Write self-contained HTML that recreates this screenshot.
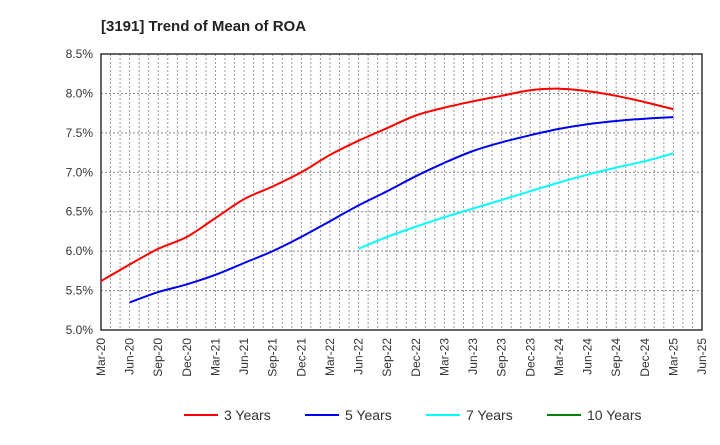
<!DOCTYPE html>
<html><head><meta charset="utf-8"><style>
body{margin:0;background:#fff;font-family:"Liberation Sans",sans-serif}
</style></head><body>
<svg id="chart" width="720" height="440" xmlns="http://www.w3.org/2000/svg" font-family="Liberation Sans, sans-serif">
<text x="101" y="31" font-size="15" font-weight="bold" fill="#222">[3191]  Trend of Mean of ROA</text>
<g id="grid"></g>
<g id="axes"></g>
<g id="series"></g>
<g id="legend"></g>
</svg>
<script>
const xLabels=["Mar-20","Jun-20","Sep-20","Dec-20","Mar-21","Jun-21","Sep-21","Dec-21","Mar-22","Jun-22","Sep-22","Dec-22","Mar-23","Jun-23","Sep-23","Dec-23","Mar-24","Jun-24","Sep-24","Dec-24","Mar-25","Jun-25"];
const yTicks=[5.0,5.5,6.0,6.5,7.0,7.5,8.0,8.5];
const y3=[5.62,5.83,6.03,6.18,6.42,6.66,6.82,7.0,7.22,7.40,7.56,7.72,7.82,7.90,7.97,8.04,8.06,8.03,7.97,7.89,7.80];
const y5=[5.35,5.48,5.58,5.70,5.85,6.00,6.18,6.38,6.58,6.76,6.95,7.12,7.27,7.38,7.47,7.55,7.61,7.65,7.68,7.70];
const y7=[6.03,6.18,6.31,6.43,6.54,6.65,6.76,6.87,6.97,7.06,7.14,7.24];
const y10=[];
const start3=0,start5=1,start7=9,start10=0;
const L=101,R=702,T=54,B=330;
const NS="http://www.w3.org/2000/svg";
const xq=i=>L+(R-L)*i/(xLabels.length-1);
const ym=v=>B-(v-5)/(3.5)*(B-T);
function mk(tag,attrs,parent){const e=document.createElementNS(NS,tag);for(const k in attrs)e.setAttribute(k,attrs[k]);parent.appendChild(e);return e;}
const grid=document.getElementById('grid'),axes=document.getElementById('axes'),series=document.getElementById('series'),legend=document.getElementById('legend');
const nMonths=(xLabels.length-1)*3;
for(let m=1;m<nMonths;m++){const x=L+(R-L)*m/nMonths;
const g=mk('line',{x1:x,x2:x,y1:T,y2:B,stroke:'#999','stroke-dasharray':'2,2','stroke-width':1},grid);

}
yTicks.forEach(v=>{const y=ym(v);
if(v>5&&v<8.5){const g=mk('line',{x1:L,x2:R,y1:y,y2:y,stroke:'#888','stroke-dasharray':'2,2','stroke-width':1},grid);

}
const t=mk('text',{x:L-8,y:y+4,'font-size':12,'text-anchor':'end',fill:'#333'},axes);t.textContent=v.toFixed(1)+'%';

});
xLabels.forEach((s,i)=>{const x=xq(i);
const t=mk('text',{x:x+4,y:B+8,'font-size':12,'text-anchor':'end',fill:'#333',transform:`rotate(-90 ${x+4} ${B+8})`},axes);t.textContent=s;

});
const fr=mk('rect',{x:L,y:T,width:R-L,height:B-T,fill:'none',stroke:'#333','stroke-width':1.5},axes);


function line(arr,st,col,name){if(!arr.length)return;
const pts=arr.map((v,i)=>[xq(st+i),ym(v)]);
let d='M'+pts[0][0].toFixed(1)+','+pts[0][1].toFixed(1);
for(let i=0;i<pts.length-1;i++){const p0=pts[Math.max(0,i-1)],p1=pts[i],p2=pts[i+1],p3=pts[Math.min(pts.length-1,i+2)];
const c1=[p1[0]+(p2[0]-p0[0])/6,p1[1]+(p2[1]-p0[1])/6],c2=[p2[0]-(p3[0]-p1[0])/6,p2[1]-(p3[1]-p1[1])/6];
d+=` C${c1[0].toFixed(1)},${c1[1].toFixed(1)} ${c2[0].toFixed(1)},${c2[1].toFixed(1)} ${p2[0].toFixed(1)},${p2[1].toFixed(1)}`;}
const e=mk('path',{d:d,fill:'none',stroke:col,'stroke-width':2,'stroke-linejoin':'round'},series);

}
line(y3,start3,'#ff0000','line-3-years');
line(y5,start5,'#0000ee','line-5-years');
line(y7,start7,'#00ffff','line-7-years');
line(y10,start10,'#008000','line-10-years');
[["3 Years","#ff0000",184],["5 Years","#0000ee",305],["7 Years","#00ffff",426],["10 Years","#008000",547]].forEach(([lab,c,x])=>{
const g=mk('g',{},legend);


mk('line',{x1:x,x2:x+34,y1:415,y2:415,stroke:c,'stroke-width':2},g);
const t=mk('text',{x:x+40,y:420,'font-size':14,fill:'#333'},g);t.textContent=lab;});
</script>
</body></html>
